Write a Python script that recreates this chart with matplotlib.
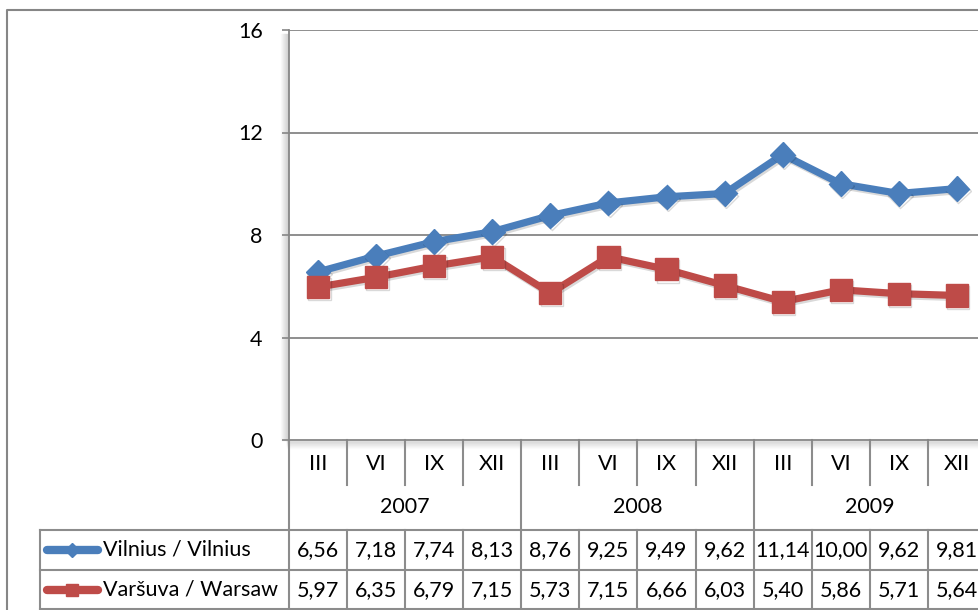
import numpy as np
import matplotlib.pyplot as plt
import matplotlib.patheffects as pe
from matplotlib.transforms import blended_transform_factory

plt.rcParams['font.family'] = ['Lato', 'DejaVu Sans']

# data
months = ['III', 'VI', 'IX', 'XII'] * 3
years = ['2007', '2008', '2009']
vilnius = [6.56, 7.18, 7.74, 8.13, 8.76, 9.25, 9.49, 9.62, 11.14, 10.00, 9.62, 9.81]
warsaw = [5.97, 6.35, 6.79, 7.15, 5.73, 7.15, 6.66, 6.03, 5.40, 5.86, 5.71, 5.64]
names = ['Vilnius / Vilnius', 'Varšuva / Warsaw']
yticks = [0, 4, 8, 12, 16]

blue = '#4A7EBB'
red = '#BE4B48'
grid = '#868686'
fs = 15.5

W, H = 979, 610
fig = plt.figure(figsize=(W / 100, H / 100), dpi=100)

# overlay in pixel coords for frame and table
ov = fig.add_axes([0, 0, 1, 1])
ov.set_xlim(0, W)
ov.set_ylim(H, 0)
ov.axis('off')

# outer chart border
ov.plot([7, 7, W + 5], [H + 5, 10, 10], color=grid, lw=1.5)

x0, x1, ytop, ybot = 289, 986, 30, 440
ax = fig.add_axes([x0 / W, (H - ybot) / H, (x1 - x0) / W, (ybot - ytop) / H])
ax.set_facecolor('none')
n = len(vilnius)
xs = np.arange(n) + 0.5
ax.set_xlim(0, n)
ax.set_ylim(0, 16)
ax.set_yticks(yticks)
ax.set_yticklabels([str(v) for v in yticks], fontsize=fs)
ax.tick_params(axis='y', length=5, width=1.2, color=grid, pad=14)
ax.set_xticks([])
for s in ['top', 'right']:
    ax.spines[s].set_visible(False)
ax.spines['left'].set_color(grid)
ax.spines['left'].set_linewidth(1.3)
ax.spines['bottom'].set_color(grid)
ax.spines['bottom'].set_linewidth(1.3)
for v in yticks[1:]:
    ax.axhline(v, color=grid, lw=1.3, zorder=1)

# soft shadow on the axes
for k in range(1, 9):
    a = 0.16 * (1 - k / 9)
    ov.plot([x0 - k, x0 - k], [ytop + 4, ybot], color='k', alpha=a, lw=1, zorder=0)
    ov.plot([x0 - 2, W], [ybot + k, ybot + k], color='k', alpha=a * 0.8, lw=1, zorder=0)

shadow = [pe.SimpleLineShadow(offset=(1, -1.5), alpha=0.15, shadow_color='k'), pe.Normal()]
ax.plot(xs, vilnius, color=blue, lw=5.2, marker='D', markersize=12.5, zorder=3,
        path_effects=shadow, clip_on=False)
ax.plot(xs, warsaw, color=red, lw=5.2, marker='s', markersize=16, zorder=3,
        path_effects=shadow, clip_on=False)

# table part
bt = blended_transform_factory(ax.transData, ov.transData)
lc = '#8C8C8C'
ov.plot([x0, x0], [ybot, H + 5], color=lc, lw=1.5)
for i in range(1, n + 1):
    if i % 4 == 0:
        ov.plot([i, i], [ybot, H + 5], color=lc, lw=1.5, transform=bt)
    else:
        ov.plot([i, i], [ybot, 485], color=lc, lw=1.5, transform=bt)
        ov.plot([i, i], [530, H + 5], color=lc, lw=1.5, transform=bt)
for i, m in enumerate(months):
    ov.text(xs[i], 464, m, ha='center', va='center', fontsize=fs, transform=bt)
for j, yv in enumerate(years):
    ov.text(4 * j + 2, 507, yv, ha='center', va='center', fontsize=fs, transform=bt)

ov.plot([40, 40], [530, H + 5], color=lc, lw=1.5)
for yy in [530, 570, 609]:
    ov.plot([40, W + 5], [yy, yy], color=lc, lw=1.5)

rows = [(vilnius, blue, 'D', 7), (warsaw, red, 's', 9)]
for r, (vals, c, mk, ms) in enumerate(rows):
    yc = 550 + 40 * r
    ov.plot([47, 98], [yc, yc], color=c, lw=6, solid_capstyle='round')
    ov.plot([72.5], [yc], color=c, marker=mk, markersize=ms, linestyle='none')
    ov.text(103, yc, names[r], ha='left', va='center', fontsize=fs)
    for i, v in enumerate(vals):
        ov.text(xs[i], yc, f'{v:.2f}'.replace('.', ','), ha='center', va='center',
                fontsize=fs, transform=bt)

fig.savefig('out.png', dpi=100)
